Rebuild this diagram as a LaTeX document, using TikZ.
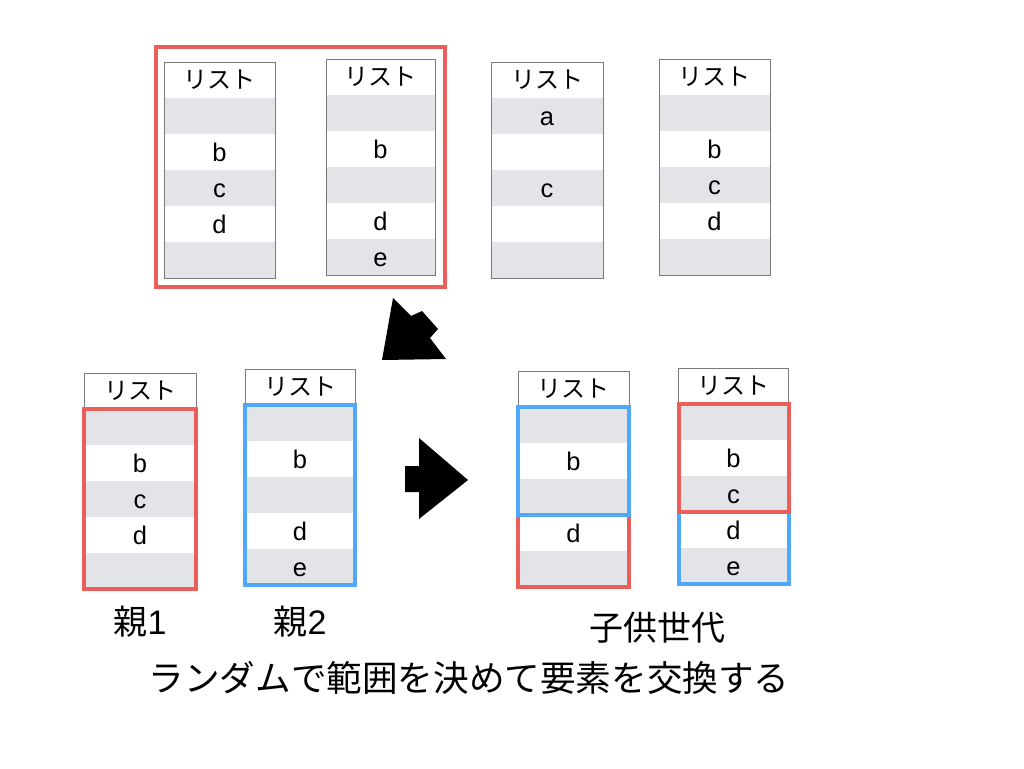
\documentclass[tikz,border=0pt]{standalone}
\usepackage{fontspec}
\setmainfont{Noto Sans CJK JP}
\newfontfamily\latinf{Liberation Sans}
\definecolor{rowgray}{HTML}{E3E4E8}
\definecolor{myred}{HTML}{EC5E5A}
\definecolor{myblue}{HTML}{4FA8FA}
\definecolor{tblline}{HTML}{7A7A7A}
\newcommand\mktbl[5]{% #1 name, #2 center x, #3 width, #4 top y, #5 entries
  \node[hdr, minimum width=#3pt] (#1h) at (#2,#4+18) {リスト};
  \foreach \t [count=\i] in {#5} {
    \pgfmathsetmacro\yy{#4+36+18+(\i-1)*36}
    \ifodd\i \def\fc{rowgray}\else\def\fc{white}\fi
    \node[cell, fill=\fc, minimum width=#3pt] (#1r\i) at (#2,\yy) {\t};
  }
  \draw[tblborder] (#1h.north west) rectangle (#1r5.south east);
}
\begin{document}
\begin{tikzpicture}[x=1pt,y=-1pt,
  cell/.style={inner sep=0pt, outer sep=0pt, minimum height=36pt, text height=18.5pt, text depth=0pt, font=\latinf\fontsize{25.5}{25.5}\selectfont},
  hdr/.style={inner sep=0pt, outer sep=0pt, minimum height=36pt, fill=white, font=\fontsize{24}{24}\selectfont},
  tblborder/.style={draw=tblline, line width=0.9pt},
  redbox/.style={draw=myred, line width=4pt},
  bluebox/.style={draw=myblue, line width=4pt},
  lbl/.style={inner sep=0pt, font=\fontsize{34}{34}\selectfont},
  blockarrow/.style={fill=black, draw=none}]
\useasboundingbox[fill=white] (0,0) rectangle (1024,768);

% top row
\mktbl{ta}{219.5}{111}{62}{{},b,c,d,{}}
\mktbl{tb}{380.5}{109}{59}{{},b,{},d,e}
\mktbl{tc}{547}{112}{62}{a,{},c,{},{}}
\mktbl{td}{714.5}{111}{59}{{},b,c,d,{}}
\draw[redbox] (156,47) rectangle (445,287);

% arrows
\fill[blockarrow] (382,360) -- (393,298) -- (411,316) -- (422,311) -- (438,329) -- (430,338) -- (446,359) -- cycle;
\fill[blockarrow] (405,466) -- (419,466) -- (419,438) -- (468,480) -- (419,519) -- (419,492) -- (405,492) -- cycle;

% parents
\mktbl{pa}{140}{112}{373}{{},b,c,d,{}}
\mktbl{pb}{300}{110}{369}{{},b,{},d,e}
\draw[redbox] (par1.north west) rectangle (par5.south east);
\draw[bluebox] (pbr1.north west) rectangle (pbr5.south east);

% children
\mktbl{ca}{573.5}{111}{371}{{},b,{},d,{}}
\mktbl{cb}{733.5}{110}{368}{{},b,c,d,e}
\draw[redbox] (car4.north west) rectangle (car5.south east);
\draw[bluebox] (car1.north west) rectangle (car3.south east);
\draw[bluebox] (cbr4.north west) rectangle (cbr5.south east);
\draw[redbox] (cbr1.north west) rectangle (cbr3.south east);

% labels
\node[lbl] (l1) at (140,622) {親{\latinf 1}};
\node[lbl] (l2) at (300,622) {親{\latinf 2}};
\node[lbl] (l3) at (657,628) {子供世代};
\node[lbl, font=\fontsize{35.6}{35.6}\selectfont] (l4) at (469,678) {ランダムで範囲を決めて要素を交換する};
\end{tikzpicture}
\end{document}
